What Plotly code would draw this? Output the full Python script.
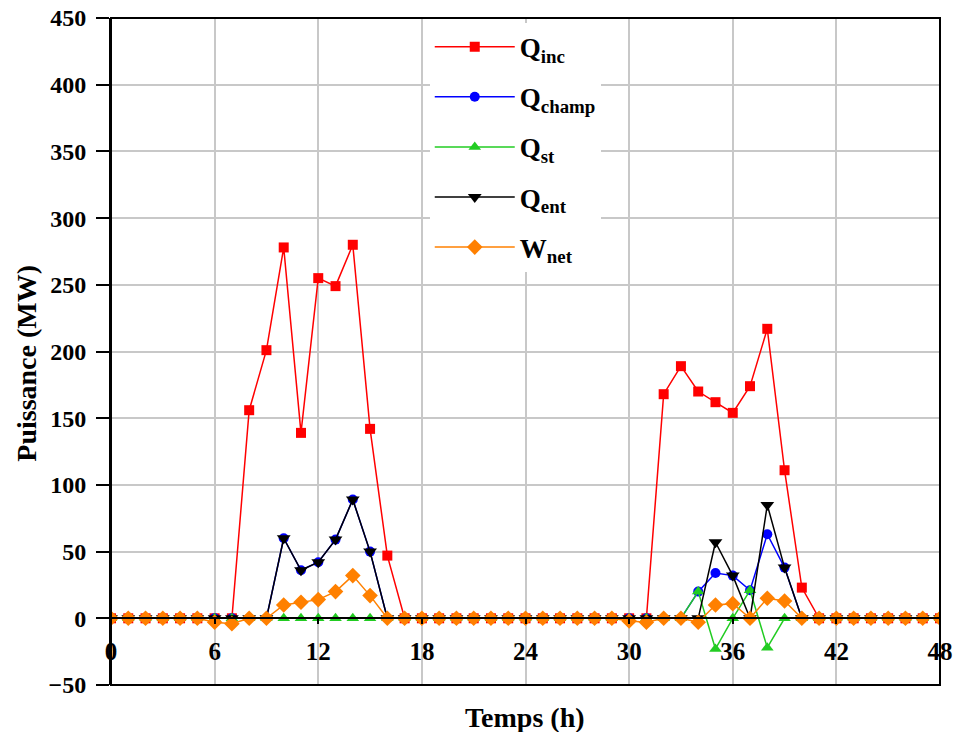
import plotly.graph_objects as go

hours = list(range(49))

q_inc = [0, 0, 0, 0, 0, 0, 0, 0, 156, 201, 278, 139, 255, 249, 280, 142, 47,
         0, 0, 0, 0, 0, 0, 0, 0, 0, 0, 0, 0, 0, 0, 0,
         168, 189, 170, 162, 154, 174, 217, 111, 23,
         0, 0, 0, 0, 0, 0, 0, 0]
q_champ = [0, 0, 0, 0, 0, 0, 0, 0, 0, 0, 60, 36, 42, 59, 89, 50,
           0, 0, 0, 0, 0, 0, 0, 0, 0, 0, 0, 0, 0, 0, 0, 0, 0, 0,
           20, 34, 32, 21, 63, 38,
           0, 0, 0, 0, 0, 0, 0, 0, 0]
q_st = [0, 0, 0, 0, 0, 0, 0, 0, 0, 0, 0, 0, 0, 0, 0, 0, 0,
        0, 0, 0, 0, 0, 0, 0, 0, 0, 0, 0, 0, 0, 0, 0, 0, 0,
        20, -23, 0, 21, -22,
        0, 0, 0, 0, 0, 0, 0, 0, 0, 0]
q_ent = [0, 0, 0, 0, 0, 0, 0, 0, 0, 0, 60, 36, 42, 59, 89, 50,
         0, 0, 0, 0, 0, 0, 0, 0, 0, 0, 0, 0, 0, 0, 0, 0, 0, 0, 0,
         57, 32, 0, 85, 38,
         0, 0, 0, 0, 0, 0, 0, 0, 0]
w_net = [0, 0, 0, 0, 0, 0, -3, -4, 0, 0, 10, 12, 14, 20, 32, 17,
         0, 0, 0, 0, 0, 0, 0, 0, 0, 0, 0, 0, 0, 0,
         -2, -3, 0, 0, -3, 10, 11, 0, 15, 13,
         0, 0, 0, 0, 0, 0, 0, 0, 0]

x_ticks = [0, 6, 12, 18, 24, 30, 36, 42, 48]
y_ticks = [-50, 0, 50, 100, 150, 200, 250, 300, 350, 400, 450]

FONT = "Liberation Serif, Times New Roman, serif"

series = [
    ("<b>Q<sub>inc</sub></b>", q_inc, "#FF0000", "square", 10),
    ("<b>Q<sub>champ</sub></b>", q_champ, "#0000FF", "circle", 10),
    ("<b>Q<sub>st</sub></b>", q_st, "#22CC22", "triangle-up", 11),
    ("<b>Q<sub>ent</sub></b>", q_ent, "#000000", "triangle-down", 12),
    ("<b>W<sub>net</sub></b>", w_net, "#FF8000", "diamond", 12),
]

fig = go.Figure()
for i, (name, vals, color, sym, size) in enumerate(series):
    fig.add_trace(go.Scatter(
        x=hours, y=vals, mode="lines+markers", name=name,
        legendgroup=f"g{i}",
        line=dict(color=color, width=1.5),
        marker=dict(symbol=sym, size=size, color=color),
    ))

y0, y1 = -50, 450
pos = (0 - y0) / (y1 - y0)

fig.update_layout(
    width=955, height=732,
    margin=dict(l=111, r=15, t=18, b=47),
    plot_bgcolor="white", paper_bgcolor="white",
    font=dict(family=FONT, color="black"),
    showlegend=True,
    legend=dict(
        x=0.3845, y=0.993, xanchor="left", yanchor="top",
        bgcolor="white", borderwidth=0,
        font=dict(family=FONT, size=27, color="black"),
        tracegroupgap=12, itemwidth=80,
    ),
    xaxis=dict(
        range=[0, 48], tickvals=x_ticks, ticktext=[str(v) for v in x_ticks],
        showgrid=True, gridcolor="#c8c8c8", gridwidth=1.5,
        showline=True, linecolor="black", linewidth=2,
        ticks="outside", ticklen=5, tickwidth=2, tickcolor="black",
        tickfont=dict(family=FONT, size=25, color="black", weight="bold"),
        anchor="free", position=pos, zeroline=False, automargin=False,
        ticklabeloverflow="allow", ticklabelstandoff=6,
    ),
    yaxis=dict(
        range=[y0, y1], tickvals=y_ticks,
        showgrid=True, gridcolor="#c8c8c8", gridwidth=1.5,
        showline=True, linecolor="black", linewidth=2,
        ticks="outside", ticklen=13, tickwidth=2, tickcolor="black",
        tickfont=dict(family=FONT, size=24, color="black", weight="bold"),
        zeroline=False, automargin=False, ticklabeloverflow="allow",
        ticklabelstandoff=5,
    ),
    shapes=[dict(type="rect", xref="x domain", yref="y domain", x0=0, x1=1, y0=0, y1=1,
                 line=dict(color="black", width=2), layer="above")],
    annotations=[
        dict(text="<b>Temps (h)</b>", xref="paper", yref="paper", x=0.4994, y=-0.048,
             xanchor="center", yanchor="middle", showarrow=False,
             font=dict(family=FONT, size=28, color="black")),
        dict(text="<b>Puissance (MW)</b>", xref="paper", yref="paper", x=-0.1015, y=0.483,
             xanchor="center", yanchor="middle", showarrow=False, textangle=-90,
             font=dict(family=FONT, size=28, color="black")),
    ],
)

fig.write_html("out.html", config={"displayModeBar": False},
               post_script="document.body.style.margin='0';")
